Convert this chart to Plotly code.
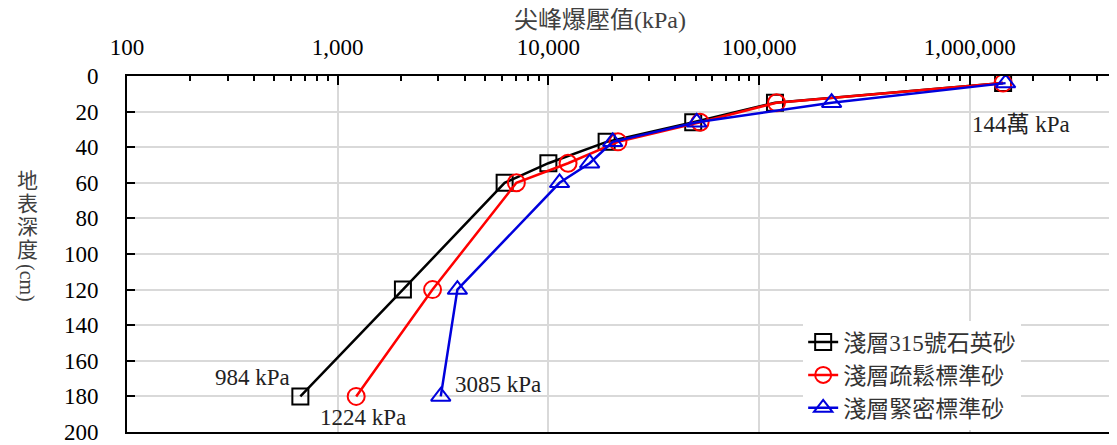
import math
import plotly.graph_objects as go

# ---- data ----
depth_cm = [4, 15, 26, 37, 49, 60, 120, 180]
quartz_315 = [1440000, 119000, 48700, 18900, 10000, 6200, 2040, 665]
loose_std = [1440000, 121000, 52500, 21400, 12400, 7050, 2820, 1224]
dense_std = [1480000, 221000, 50600, 20200, 15700, 11300, 3700, 3085]

series_names = ["淺層315號石英砂", "淺層疏鬆標準砂", "淺層緊密標準砂"]
x_tick_vals = [100, 1000, 10000, 100000, 1000000]
x_tick_text = ["100", "1,000", "10,000", "100,000", "1,000,000"]
y_tick_vals = [0, 20, 40, 60, 80, 100, 120, 140, 160, 180, 200]
y_title_chars = ["地", "表", "深", "度"]

FONT = "Liberation Serif, Times New Roman, Noto Sans CJK TC, serif"

# page has an 8px body margin; figure sized to fit the window
W, H = 1109, 437
L, T, B, R = 119, 68, 13, 0
plot_h = H - T - B

fig = go.Figure()
styles = [
    ("black", "square-open", 16),
    ("#ff0000", "circle-open", 17),
    ("#0000dd", "triangle-up-open", 17),
]
for name, vals, (col, sym, sz) in zip(series_names, [quartz_315, loose_std, dense_std], styles):
    fig.add_trace(go.Scatter(
        x=vals, y=depth_cm, name=name, mode="lines+markers",
        line=dict(color=col, width=2.5),
        marker=dict(symbol=sym, size=sz, color=col, line=dict(color=col, width=2)),
    ))

ann_font = dict(family=FONT, size=23, color="#222222")
fig.add_annotation(x=math.log10(quartz_315[-1]), y=depth_cm[-1], text="984 kPa",
                   showarrow=False, xanchor="right", yanchor="bottom",
                   xshift=-8, yshift=4, font=ann_font)
fig.add_annotation(x=math.log10(loose_std[-1]), y=depth_cm[-1], text="1224 kPa",
                   showarrow=False, xanchor="left", yanchor="top",
                   xshift=-38, yshift=-7, font=ann_font)
fig.add_annotation(x=math.log10(dense_std[-1]), y=depth_cm[-1], text="3085 kPa",
                   showarrow=False, xanchor="left", yanchor="middle",
                   xshift=12, yshift=12, font=ann_font)
fig.add_annotation(x=math.log10(quartz_315[0]), y=depth_cm[0], text="144萬 kPa",
                   showarrow=False, xanchor="center", yanchor="middle",
                   xshift=18, yshift=-41, font=ann_font)

# axis titles
fig.add_annotation(xref="paper", yref="paper", x=0.478, y=1.157, text="尖峰爆壓值(kPa)",
                   showarrow=False, xanchor="center", yanchor="middle",
                   font=dict(family=FONT, size=24, color="#404040"))
title_top_px = 181 - 8  # centre of first character, figure pixels
for i, ch in enumerate(y_title_chars):
    yc = title_top_px + 23 * i
    fig.add_annotation(xref="paper", yref="paper", x=-0.101, y=(H - B - yc) / plot_h,
                       text=ch, showarrow=False, xanchor="center", yanchor="middle",
                       font=dict(family=FONT, size=21, color="#404040"))
fig.add_annotation(xref="paper", yref="paper", x=-0.101, y=(H - B - (283 - 8)) / plot_h,
                   text="(cm)", showarrow=False, xanchor="center", yanchor="middle",
                   textangle=90, font=dict(family=FONT, size=20, color="#404040"))

fig.update_layout(
    width=W, height=H,
    margin=dict(l=L, r=R, t=T, b=B, pad=0),
    paper_bgcolor="white", plot_bgcolor="white",
    font=dict(family=FONT, size=22, color="black"),
    showlegend=True,
    legend=dict(x=0.683, y=0.313, xanchor="left", yanchor="top",
                bgcolor="white", borderwidth=0,
                font=dict(family=FONT, size=23, color="#333333"),
                tracegroupgap=0),
    xaxis=dict(
        type="log", side="top", range=[2, math.log10(5e6)],
        tickvals=x_tick_vals, ticktext=x_tick_text,
        ticks="inside", ticklen=9, tickwidth=2, tickcolor="black",
        showline=True, linewidth=2, linecolor="black", mirror=True,
        showgrid=True, gridcolor="#d9d9d9", gridwidth=1.5,
        minor=dict(ticks="inside", ticklen=5, tickwidth=1.5, tickcolor="black",
                   dtick="D1", showgrid=False),
        zeroline=False, ticklabelstandoff=10, ticklabeloverflow="allow",
        tickfont=dict(family=FONT, size=23, color="black"),
    ),
    yaxis=dict(
        range=[200, 0], tickvals=y_tick_vals,
        ticks="inside", ticklen=8, tickwidth=2, tickcolor="black",
        showline=True, linewidth=2, linecolor="black",
        showgrid=True, gridcolor="#d9d9d9", gridwidth=1.5,
        zeroline=False, ticklabelstandoff=22, ticklabeloverflow="allow",
        tickfont=dict(family=FONT, size=23, color="black"),
    ),
)

fig.write_html("out.html")
